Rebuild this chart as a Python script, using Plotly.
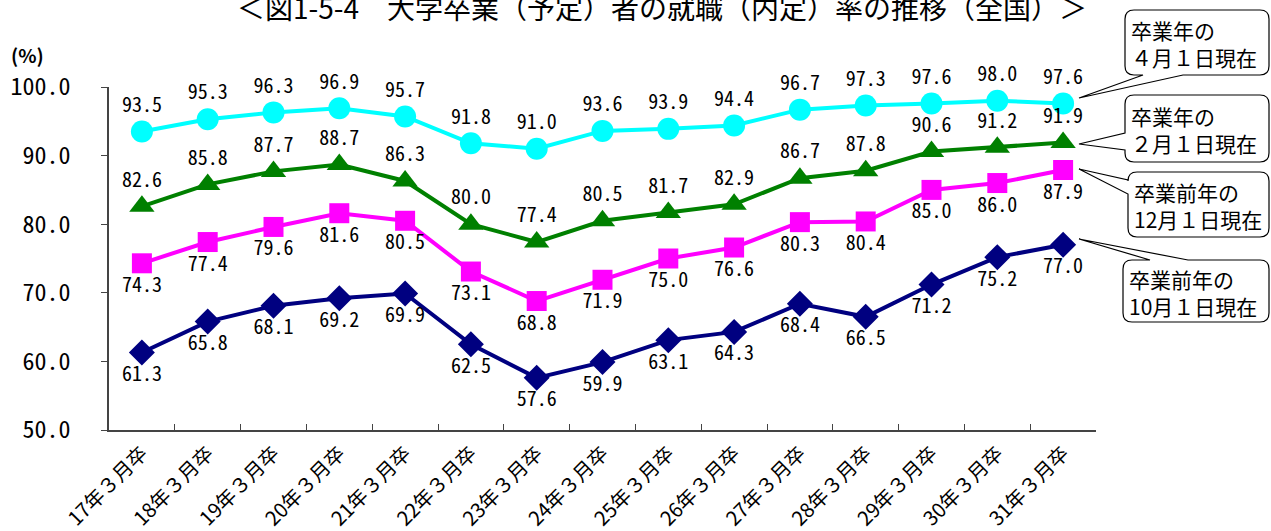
import plotly.graph_objects as go

categories = ["17年３月卒", "18年３月卒", "19年３月卒", "20年３月卒", "21年３月卒",
              "22年３月卒", "23年３月卒", "24年３月卒", "25年３月卒", "26年３月卒",
              "27年３月卒", "28年３月卒", "29年３月卒", "30年３月卒", "31年３月卒"]

apr1 = [93.5, 95.3, 96.3, 96.9, 95.7, 91.8, 91.0, 93.6, 93.9, 94.4, 96.7, 97.3, 97.6, 98.0, 97.6]
feb1 = [82.6, 85.8, 87.7, 88.7, 86.3, 80.0, 77.4, 80.5, 81.7, 82.9, 86.7, 87.8, 90.6, 91.2, 91.9]
dec1 = [74.3, 77.4, 79.6, 81.6, 80.5, 73.1, 68.8, 71.9, 75.0, 76.6, 80.3, 80.4, 85.0, 86.0, 87.9]
oct1 = [61.3, 65.8, 68.1, 69.2, 69.9, 62.5, 57.6, 59.9, 63.1, 64.3, 68.4, 66.5, 71.2, 75.2, 77.0]

series_names = ["卒業年の４月１日現在", "卒業年の２月１日現在", "卒業前年の12月１日現在", "卒業前年の10月１日現在"]
callout_texts = ["卒業年の<br>４月１日現在", "卒業年の<br>２月１日現在", "卒業前年の<br>12月１日現在", "卒業前年の<br>10月１日現在"]
title_text = "＜図1-5-4　大学卒業（予定）者の就職（内定）率の推移（全国）＞"

W, H = 1271, 531
L, R, T, B = 109, 1096, 87, 430


def X(px):
    return (px - L) / (R - L)


def Y(py):
    return (B - py) / (B - T)


JP = "Noto Sans CJK JP, sans-serif"
NUM = "Noto Sans Mono CJK JP, Liberation Sans Narrow, Noto Sans CJK JP, sans-serif"

styles = [
    (apr1, "#00FFFF", "circle", 22, "top center"),
    (feb1, "#008000", "triangle-up", 22, "top center"),
    (dec1, "#FF00FF", "square", 20, "bottom center"),
    (oct1, "#000080", "diamond", 20, "bottom center"),
]

fig = go.Figure()
for (vals, col, sym, size, tpos), name in zip(styles, series_names):
    fig.add_trace(go.Scatter(
        x=categories, y=vals, name=name, mode="lines+markers+text",
        line=dict(color=col, width=4),
        marker=dict(symbol=sym, size=size, color=col),
        text=[f"{v:.1f}" for v in vals], textposition=tpos,
        textfont=dict(family=NUM, size=20, color="black"),
        cliponaxis=False, showlegend=False,
    ))

# callouts (rounded boxes with wedge)
def callout(x1, y1, x2, y2, side, a, b, tip, r=9):
    p = lambda x, y: f"{X(x):.5f},{Y(y):.5f}"
    s = f"M {p(x1 + r, y1)} "
    if side == "top":
        s += f"L {p(a, y1)} L {p(*tip)} L {p(b, y1)} "
    s += f"L {p(x2 - r, y1)} Q {p(x2, y1)} {p(x2, y1 + r)} "
    s += f"L {p(x2, y2 - r)} Q {p(x2, y2)} {p(x2 - r, y2)} "
    if side == "bottom":
        s += f"L {p(b, y2)} L {p(*tip)} L {p(a, y2)} "
    s += f"L {p(x1 + r, y2)} Q {p(x1, y2)} {p(x1, y2 - r)} "
    if side == "left":
        s += f"L {p(x1, b)} L {p(*tip)} L {p(x1, a)} "
    s += f"L {p(x1, y1 + r)} Q {p(x1, y1)} {p(x1 + r, y1)} Z"
    return s


boxes = [
    (1125, 10, 1269, 75, "bottom", 1143, 1183, (1079, 98)),
    (1125, 95, 1269, 162, "left", 133, 150, (1079, 144)),
    (1128, 172, 1269, 237, "left", 180, 194, (1079, 169)),
    (1123, 260, 1269, 322, "top", 1150, 1188, (1079, 239)),
]
shapes = []
annotations = []
for (x1, y1, x2, y2, side, a, b, tip), txt in zip(boxes, callout_texts):
    shapes.append(dict(type="path", xref="paper", yref="paper",
                       path=callout(x1, y1, x2, y2, side, a, b, tip),
                       fillcolor="white", line=dict(color="black", width=1.2), layer="above"))
    annotations.append(dict(xref="paper", yref="paper", x=X(x1 + 4), y=Y((y1 + y2) / 2 + 1),
                            xanchor="left", yanchor="middle", align="left", showarrow=False,
                            text=txt, font=dict(family=JP, size=21, color="black")))

annotations.append(dict(xref="paper", yref="paper", x=X(662), y=Y(7), xanchor="center", yanchor="middle",
                        showarrow=False, text=title_text, font=dict(family=JP, size=28, color="black")))
annotations.append(dict(xref="paper", yref="paper", x=X(9), y=Y(55), xanchor="left", yanchor="middle",
                        showarrow=False, text="<b>(%)</b>", font=dict(family=JP, size=19, color="black")))

fig.update_layout(
    width=W, height=H,
    margin=dict(l=L, r=W - R, t=T, b=H - B, autoexpand=False),
    paper_bgcolor="white", plot_bgcolor="white",
    shapes=shapes, annotations=annotations,
    xaxis=dict(type="category", tickson="boundaries", ticks="inside", ticklen=6,
               tickcolor="#444", showline=True, linecolor="#444", linewidth=1.5,
               showgrid=False, tickangle=-45, tickfont=dict(family=JP, size=20, color="black"),
               range=[-0.5, 14.5], ticklabelstandoff=2, automargin=False),
    yaxis=dict(range=[50, 100], dtick=10, tickformat=".1f", ticks="outside", ticklen=6,
               tickcolor="#444", showline=True, linecolor="#444", linewidth=1.5,
               showgrid=False, zeroline=False, automargin=False,
               tickfont=dict(family=NUM, size=24, color="black"), ticklabelstandoff=26),
)

fig.write_html("out.html", config={"displayModeBar": False},
               post_script="document.body.style.margin='0';document.body.style.overflow='hidden';")
